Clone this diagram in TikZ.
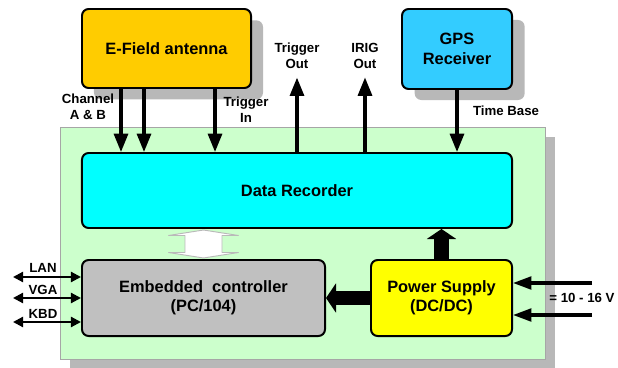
\documentclass[tikz,border=0pt]{standalone}
\usepackage{fontspec}
\setmainfont{Liberation Sans}
\usepackage{tikz}
\usetikzlibrary{calc,arrows.meta,shadows}

\definecolor{antenna}{HTML}{FFCC00}
\definecolor{gpsblue}{HTML}{33CCFF}
\definecolor{recorder}{HTML}{00FFFF}
\definecolor{pcgray}{HTML}{C0C0C0}
\definecolor{supply}{HTML}{FFFF00}
\definecolor{board}{HTML}{CCFFCC}
\definecolor{shadowgray}{HTML}{B8B8B8}

\tikzset{
    block/.style={draw=black, line width=1.7pt, rounded corners=0.2cm, align=center, inner sep=0pt,
        font=\fontsize{14}{16.5}\selectfont\bfseries},
    lbl/.style={align=center, inner sep=1pt, font=\fontsize{11.3}{13.7}\selectfont\bfseries},
    sig/.style={line width=2.6pt, -{Triangle[length=0.55cm, width=0.42cm]}},
    port/.style={line width=1.8pt, {Triangle[length=0.3cm, width=0.3cm]}-{Triangle[length=0.3cm, width=0.3cm]}},
    feed/.style={line width=2.6pt, -{Triangle[length=0.55cm, width=0.38cm]}},
    power/.style={line width=0.45cm, -{Triangle[length=0.3cm, width=0.87cm]}},
    hollow/.style={draw=gray!55, fill=white, line width=0.8pt, line join=round},
}

\begin{document}
\begin{tikzpicture}[x=0.03cm, y=-0.03cm]
    \useasboundingbox (0,0) rectangle (618,368);

    \node[draw=gray!70, fill=board, minimum width=14.55cm, minimum height=6.96cm, inner sep=0pt,
        drop shadow={shadow xshift=0.3cm, shadow yshift=-0.3cm, fill=shadowgray, opacity=1}] (base) at (302.5,243) {};

    \node[block, fill=antenna, minimum width=5.07cm, minimum height=2.37cm,
        drop shadow={shadow xshift=0.36cm, shadow yshift=-0.34cm, fill=shadowgray, opacity=1}] (ant) at (166.5,48.5) {E-Field antenna};

    \node[block, fill=gpsblue, minimum width=3.3cm, minimum height=2.4cm,
        drop shadow={shadow xshift=0.38cm, shadow yshift=-0.33cm, fill=shadowgray, opacity=1}] (gps) at (457,49) {GPS\\Receiver};

    \node[block, fill=recorder, minimum width=12.9cm, minimum height=2.25cm] (rec) at (297,190.5) {Data Recorder};

    \node[block, fill=pcgray, minimum width=7.29cm, minimum height=2.28cm] (ctl) at (203.5,298) {Embedded~ controller\\(PC/104)};

    \node[block, fill=supply, minimum width=4.23cm, minimum height=2.28cm] (psu) at (441.5,298) {Power Supply\\(DC/DC)};

    \node[lbl] (chan) at (88,107) {Channel\\A \& B};
    \node[lbl] (tin) at (246,110) {Trigger\\In};
    \node[lbl] (tout) at (297,56) {Trigger\\Out};
    \node[lbl] (iout) at (365,56) {IRIG\\Out};
    \node[lbl] (tbase) at (506,111) {Time Base};

    \node[lbl] (lan) at (43,268) {LAN};
    \node[lbl] (vga) at (43,290) {VGA};
    \node[lbl] (kbd) at (43,314) {KBD};
    \node[lbl] (volt) at (582,298) {= 10 - 16 V};

    \coordinate (lanend) at (13,277);
    \coordinate (vgaend) at (13,298);
    \coordinate (kbdend) at (13,322);
    \coordinate (vplus) at (592,283);
    \coordinate (vminus) at (592,315);
    \coordinate (bus) at ($(ctl.north)!0.5!(ctl.north |- rec.south)$);

    \draw[sig] ([xshift=1.2cm]ant.south west) -- ([xshift=1.2cm]ant.south west |- rec.north);
    \draw[sig] ([xshift=1.89cm]ant.south west) -- ([xshift=1.89cm]ant.south west |- rec.north);
    \draw[sig] ([xshift=4.02cm]ant.south west) -- ([xshift=4.02cm]ant.south west |- rec.north);
    \draw[sig] (gps.south) -- (gps.south |- rec.north);

    \draw[sig] (rec.north) -- ([yshift=-0.22cm]tout.south);
    \draw[sig] (rec.north -| iout.south) -- ([yshift=-0.22cm]iout.south);

    \draw[hollow] (bus) ++(0,-14) -- ++(35,5.5) -- ++(-16.5,0) -- ++(0,17) -- ++(16.5,0)
        -- ++(-35,5.5) -- ++(-35,-5.5) -- ++(16.5,0) -- ++(0,-17) -- ++(-16.5,0) -- cycle;

    \draw[port] (lanend) -- (lanend -| ctl.west);
    \draw[port] (vgaend) -- (vgaend -| ctl.west);
    \draw[port] (kbdend) -- (kbdend -| ctl.west);

    \draw[feed] (vplus) -- (vplus -| psu.east);
    \draw[feed] (vminus) -- (vminus -| psu.east);

    \draw[power] (psu.north) -- (psu.north |- rec.south);
    \draw[power, line width=0.42cm] (psu.west) -- (ctl.east);

\end{tikzpicture}
\end{document}
